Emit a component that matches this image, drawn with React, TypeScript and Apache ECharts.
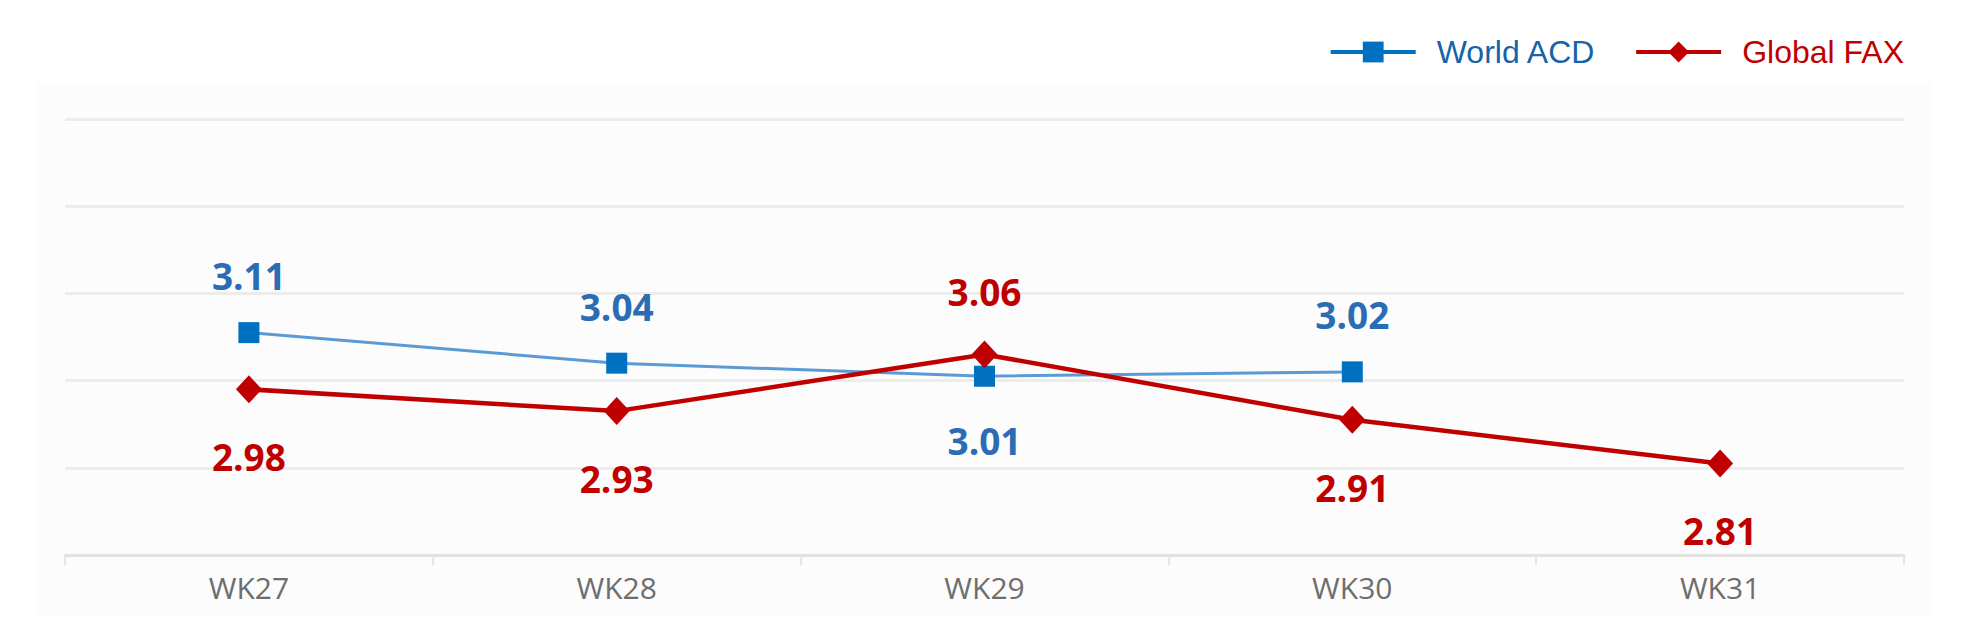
import { useEffect, useRef } from 'react';

import * as echarts from 'echarts';

// Datos del gráfico
const weeks = ['WK27', 'WK28', 'WK29', 'WK30', 'WK31'];
const worldAcd = [3.11, 3.04, 3.01, 3.02, null];
const globalFax = [2.98, 2.93, 3.06, 2.91, 2.81];
const seriesNames = ['World ACD', 'Global FAX'];

const BLUE = '#0070c0';
const BLUE_LINE = '#5b9bd5';
const BLUE_TEXT = '#2a6db5';
const RED = '#c00000';

// La etiqueta va arriba si el punto queda por encima de la otra serie
const withLabels = (values: (number | null)[], other: (number | null)[], topDist: number, bottomDist: number) =>
    values.map((v, i) => {
        if (v == null) return null;
        const o = other[i] ?? Infinity;
        const above = v > o;
        return {
            value: v,
            label: { position: above ? 'top' : 'bottom', distance: above ? topDist : bottomDist },
        };
    });

const LineChart = () => {
    const chartRef = useRef<HTMLDivElement | null>(null);

    useEffect(() => {
        const chartDom = chartRef.current!;
        const myChart = echarts.init(chartDom, undefined, { renderer: 'svg' });

        const labelFont = {
            show: true,
            fontFamily: 'Open Sans',
            fontSize: 37,
            fontWeight: 'bold' as const,
        };

        const option: echarts.EChartsOption = {
            animation: false,
            backgroundColor: '#ffffff',
            graphic: [
                {
                    type: 'rect',
                    z: -100,
                    silent: true,
                    shape: { x: 36, y: 83, width: 1896, height: 532 },
                    style: { fill: '#fcfcfc' },
                },
            ],
            legend: {
                right: 64,
                top: 36,
                padding: 0,
                itemWidth: 85,
                itemHeight: 26,
                itemGap: 38,
                textStyle: {
                    fontFamily: 'Liberation Sans',
                    fontSize: 32,
                    padding: [0, 0, 0, 16],
                },
                data: [
                    {
                        name: seriesNames[0],
                        itemStyle: { color: BLUE },
                        lineStyle: { color: BLUE, width: 4 },
                        textStyle: { color: '#1763a8' },
                    },
                    {
                        name: seriesNames[1],
                        itemStyle: { color: RED },
                        lineStyle: { color: RED, width: 4 },
                        textStyle: { color: RED },
                    },
                ],
            },
            grid: {
                left: 65,
                right: 64,
                top: 119,
                bottom: 85,
            },
            xAxis: {
                type: 'category',
                data: weeks,
                boundaryGap: true,
                axisLine: { lineStyle: { color: '#e2e2e2', width: 3 } },
                axisTick: { show: true, length: 10, lineStyle: { color: '#e6e6e6', width: 2 } },
                axisLabel: {
                    margin: 17,
                    color: '#6e6e6e',
                    fontFamily: 'Open Sans',
                    fontSize: 30,
                },
            },
            yAxis: {
                type: 'value',
                min: 2.6,
                max: 3.6,
                interval: 0.2,
                axisLabel: { show: false },
                axisLine: { show: false },
                axisTick: { show: false },
                splitLine: { lineStyle: { color: '#ececec', width: 3 } },
            },
            series: [
                {
                    name: seriesNames[0],
                    type: 'line',
                    data: withLabels(worldAcd, globalFax, 28, 35) as any,
                    symbol: 'rect',
                    symbolSize: 21,
                    itemStyle: { color: BLUE },
                    lineStyle: { color: BLUE_LINE, width: 3 },
                    label: { ...labelFont, color: BLUE_TEXT },
                    z: 3,
                },
                {
                    name: seriesNames[1],
                    type: 'line',
                    data: withLabels(globalFax, worldAcd, 30, 35) as any,
                    symbol: 'diamond',
                    symbolSize: [26, 28],
                    itemStyle: { color: RED },
                    lineStyle: { color: RED, width: 4.5 },
                    label: { ...labelFont, color: RED },
                    z: 4,
                },
            ],
        };

        myChart.setOption(option);

        return () => {
            myChart.dispose();
        };
    }, []);

    return (
        <div
            ref={chartRef}
            style={{ position: 'fixed', left: 0, top: 0, width: 1968, height: 640 }}
        />
    );
};

export default LineChart;
